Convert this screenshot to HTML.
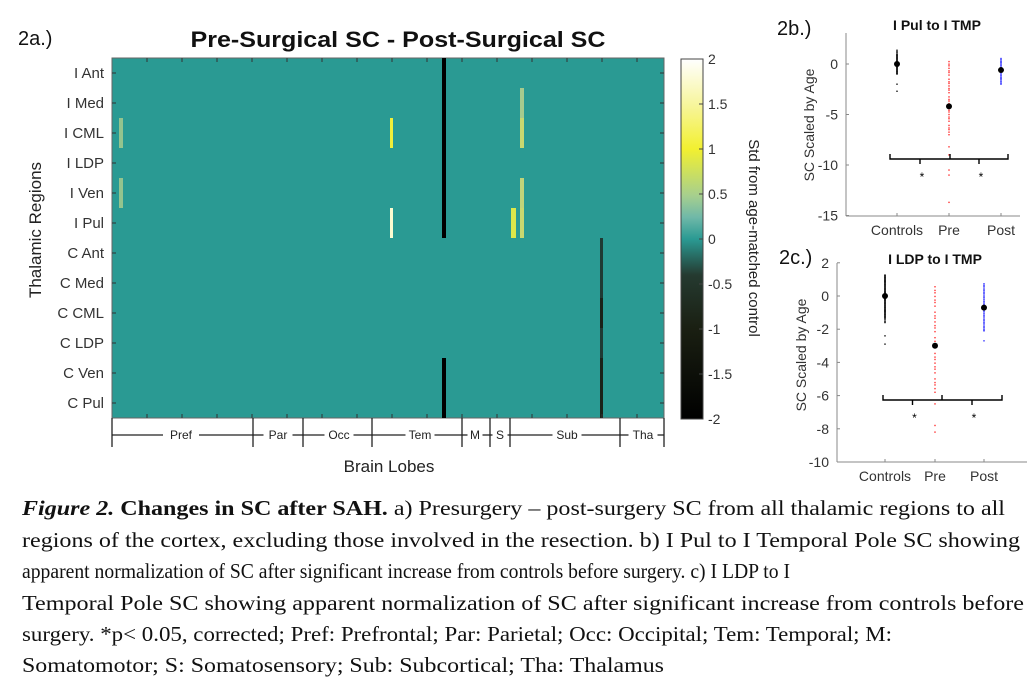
<!DOCTYPE html>
<html><head><meta charset="utf-8"><style>
html,body{margin:0;padding:0;background:#fff;}
svg{display:block;}
</style></head><body>
<svg id="s" width="1036" height="689" viewBox="0 0 1036 689" xmlns="http://www.w3.org/2000/svg" font-family="Liberation Sans, sans-serif">
<defs>
<linearGradient id="cb" x1="0" y1="1" x2="0" y2="0">
<stop offset="0" stop-color="#000000"/>
<stop offset="0.25" stop-color="#1a1f12"/>
<stop offset="0.4" stop-color="#253a30"/>
<stop offset="0.5" stop-color="#2a9a93"/>
<stop offset="0.56" stop-color="#6fb8a8"/>
<stop offset="0.62" stop-color="#a6cf8e"/>
<stop offset="0.75" stop-color="#f2f030"/>
<stop offset="0.87" stop-color="#f7f59a"/>
<stop offset="1" stop-color="#ffffff"/>
</linearGradient>
</defs>
<rect width="1036" height="689" fill="#fff"/>
<text x="18" y="45" font-size="20" fill="#111">2a.)</text>
<text x="398" y="47" font-size="22" font-weight="bold" text-anchor="middle" fill="#111" textLength="415" lengthAdjust="spacingAndGlyphs">Pre-Surgical SC - Post-Surgical  SC</text>
<rect x="112" y="58" width="552" height="360" fill="#2a9a93" stroke="#666" stroke-width="1"/>
<g id="cells"></g>
<g id="ticks" stroke="#333" stroke-width="1"></g>
<g id="rowlabels" font-size="15" fill="#333" text-anchor="end"></g>
<text transform="translate(41,230) rotate(-90)" font-size="17" text-anchor="middle" fill="#222">Thalamic Regions</text>
<g stroke="#222" stroke-width="1.3" id="lobes"></g>
<g font-size="12" fill="#222" text-anchor="middle" id="lobelabels"></g>
<text x="389" y="472" font-size="17" text-anchor="middle" fill="#222">Brain Lobes</text>
<rect x="681" y="59" width="22" height="360" fill="url(#cb)" stroke="#444" stroke-width="1"/>
<g id="cbt" font-size="14" fill="#333"></g>
<text transform="translate(749,238) rotate(90)" font-size="15" text-anchor="middle" fill="#222">Std from age-matched control</text>
<text x="777" y="35" font-size="20" fill="#111">2b.)</text>
<text x="937" y="30" font-size="14" font-weight="bold" text-anchor="middle" fill="#111">I Pul to I TMP</text>
<g id="pb"></g>
<text transform="translate(814,125) rotate(-90)" font-size="14" text-anchor="middle" fill="#333">SC Scaled by Age</text>
<text x="779" y="264" font-size="20" fill="#111">2c.)</text>
<text x="935" y="264" font-size="14" font-weight="bold" text-anchor="middle" fill="#111">I LDP to I TMP</text>
<g id="pc"></g>
<text transform="translate(806,355) rotate(-90)" font-size="14" text-anchor="middle" fill="#333">SC Scaled by Age</text>
<g font-family="Liberation Serif, serif" font-size="21" fill="#111">
<text x="22" y="515" textLength="983" lengthAdjust="spacingAndGlyphs"><tspan font-style="italic" font-weight="bold">Figure 2.</tspan><tspan font-weight="bold"> Changes in SC after SAH.</tspan> a) Presurgery – post-surgery SC from all thalamic regions to all</text>
<text x="22" y="547" textLength="998" lengthAdjust="spacingAndGlyphs">regions of the cortex, excluding those involved in the resection. b) I Pul to I Temporal Pole SC showing</text>
<text x="22" y="578" textLength="768" lengthAdjust="spacingAndGlyphs">apparent normalization of SC after significant increase from controls before surgery. c) I LDP to I</text>
<text x="22" y="610" textLength="1002" lengthAdjust="spacingAndGlyphs">Temporal Pole SC showing apparent normalization of SC after significant increase from controls before</text>
<text x="22" y="641" textLength="870" lengthAdjust="spacingAndGlyphs">surgery. *p&lt; 0.05, corrected; Pref: Prefrontal; Par: Parietal; Occ: Occipital; Tem: Temporal; M:</text>
<text x="22" y="672" textLength="642" lengthAdjust="spacingAndGlyphs">Somatomotor; S: Somatosensory; Sub: Subcortical; Tha: Thalamus</text>
</g>
</svg>
<script>
(function(){
const NS="http://www.w3.org/2000/svg";
function el(p,t,a,txt){const e=document.createElementNS(NS,t);for(const k in a)e.setAttribute(k,a[k]);if(txt!==undefined)e.textContent=txt;document.getElementById(p).appendChild(e);return e;}
const T0=58,rh=30;
function cell(x,r0,r1,c,w){el('cells','rect',{x:x,y:T0+r0*rh,width:w||3,height:(r1-r0)*rh,fill:c});}
cell(442,0,6,'#000',4);cell(442,10,12,'#000',4);
cell(600,6,8,'#1f3a33',3);cell(600,8,9,'#1a2218',3);cell(600,9,10,'#1f3a33',3);cell(600,10,12,'#1a2218',3);
cell(119,2,3,'#94c48e',4);cell(119,4,5,'#94c48e',4);
cell(390,2,3,'#f0ef3a',3);cell(390,5,6,'#fbfbd0',3);
cell(520,1,2,'#a6cb8e',4);cell(520,2,3,'#c8d870',4);cell(520,4,5,'#c0d47a',4);cell(520,5,6,'#c8d870',4);
cell(511,5,6,'#dde84a',5);
const rows=['I Ant','I Med','I CML','I LDP','I Ven','I Pul','C Ant','C Med','C CML','C LDP','C Ven','C Pul'];
rows.forEach((r,i)=>{const y=T0+i*rh+15;el('rowlabels','text',{x:104,y:y+5},r);
el('ticks','line',{x1:112,y1:y,x2:116,y2:y});el('ticks','line',{x1:664,y1:y,x2:660,y2:y});});
for(let x=112+35;x<664;x+=35){el('ticks','line',{x1:x,y1:58,x2:x,y2:62});el('ticks','line',{x1:x,y1:418,x2:x,y2:414});}
[112,253,303,372,462,490,510,620,664].forEach(x=>el('lobes','line',{x1:x,y1:418,x2:x,y2:447}));
const labs=[['Pref',181],['Par',278],['Occ',339],['Tem',420],['M',475],['S',500],['Sub',567],['Tha',643]];
let prev=112;const seps=[253,303,372,462,490,510,620,664];
labs.forEach((l,i)=>{const w=l[0].length*7+8;el('lobes','line',{x1:prev,y1:435,x2:l[1]-w/2,y2:435});el('lobes','line',{x1:l[1]+w/2,y1:435,x2:seps[i],y2:435});prev=seps[i];
el('lobelabels','text',{x:l[1],y:439},l[0]);});
[2,1.5,1,0.5,0,-0.5,-1,-1.5,-2].forEach((v,i)=>{const y=59+i*45;el('cbt','text',{x:708,y:y+5},String(v));
el('cbt','line',{x1:699,y1:y,x2:703,y2:y,stroke:'#444'});});
function panel(g,x0,x1,y0,y1,yz,ppu,ticks,xs,data,br){
 el(g,'line',{x1:x0,y1:y0,x2:x0,y2:y1,stroke:'#888'});el(g,'line',{x1:x0,y1:y1,x2:x1,y2:y1,stroke:'#888'});
 ticks.forEach(t=>{const y=yz-t*ppu;el(g,'text',{x:x0-8,y:y+5,'font-size':14,'text-anchor':'end',fill:'#333'},String(t));el(g,'line',{x1:x0,y1:y,x2:x0+3,y2:y,stroke:'#888'});});
 ['Controls','Pre','Post'].forEach((n,i)=>{el(g,'text',{x:xs[i],y:y1+19,'font-size':14,'text-anchor':'middle',fill:'#333'},n);el(g,'line',{x1:xs[i],y1:y1,x2:xs[i],y2:y1-3,stroke:'#888'});});
 const cols=['#111','#f33','#33f'];
 data.forEach((d,i)=>{d.pts.forEach(v=>el(g,'rect',{x:xs[i]-0.7,y:yz-v*ppu-0.7,width:1.4,height:1.4,fill:cols[i]}));
  if(d.err)el(g,'line',{x1:xs[i],y1:yz-(d.m+d.err)*ppu,x2:xs[i],y2:yz-(d.m-d.err)*ppu,stroke:'#000','stroke-width':1.5});
  el(g,'circle',{cx:xs[i],cy:yz-d.m*ppu,r:3,fill:'#000'});});
 const bx0=br[0],bmid=br[1],bx1=br[2],by=br[3];const p=`M${bx0},${by-5} L${bx0},${by} L${bx1},${by} L${bx1},${by-5} M${bmid},${by-5} L${bmid},${by} M${(bx0+bmid)/2},${by} L${(bx0+bmid)/2},${by+5} M${(bmid+bx1)/2},${by} L${(bmid+bx1)/2},${by+5}`;
 el(g,'path',{d:p,stroke:'#000',fill:'none','stroke-width':1.4});
 el(g,'text',{x:(bx0+bmid)/2+2,y:by+22,'font-size':12,'text-anchor':'middle'},'*');el(g,'text',{x:(bmid+bx1)/2+2,y:by+22,'font-size':12,'text-anchor':'middle'},'*');
}
function rng(a,b,n){const r=[];for(let i=0;i<n;i++)r.push(a+(b-a)*((i*0.618)%1));return r;}
panel('pb',846,1020,33,216,64,10.1,[0,-5,-10,-15],[897,949,1001],
 [{m:0,err:1,pts:rng(-1,1.5,20).concat([-2,-2.7])},{m:-4.2,pts:rng(-7,0.4,30).concat([-8.2,-9,-10.5,-11,-13.7])},{m:-0.6,pts:rng(-2,0.6,25)}],
 [890,950,1008,159]);
panel('pc',837,1027,263,462,296,16.6,[2,0,-2,-4,-6,-8,-10],[885,935,984],
 [{m:0,err:1.3,pts:rng(-1.6,1.3,40).concat([-2.4,-2.9])},{m:-3,pts:rng(-5.8,0.7,30).concat([-6.5,-7.8,-8.2])},{m:-0.7,pts:rng(-2.1,0.8,35).concat([-2.7])}],
 [883,942,1002,400]);
})();
</script>
</body></html>
